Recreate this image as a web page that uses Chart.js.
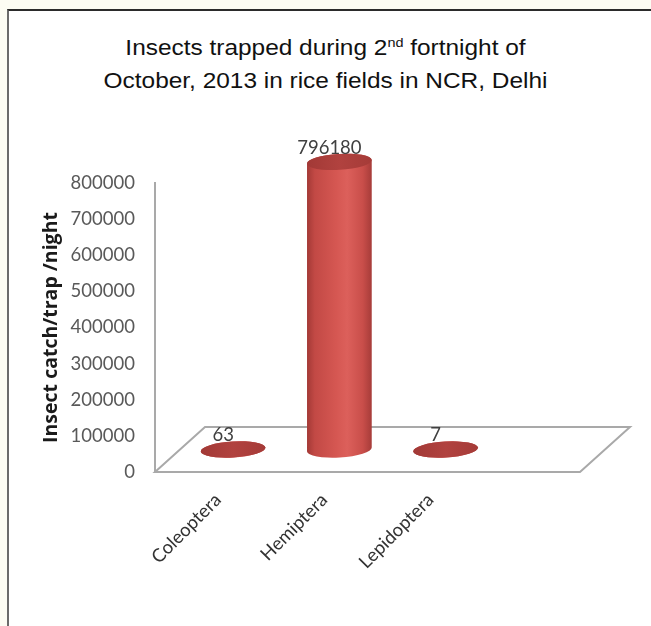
<!DOCTYPE html>
<html>
<head>
<meta charset="utf-8">
<script src="https://cdn.jsdelivr.net/npm/chart.js@4.4.0/dist/chart.umd.min.js"></script>
<style>
  html, body { margin: 0; padding: 0; }
  body { width: 651px; height: 626px; background: #fcfcf3; position: relative; overflow: hidden; }
  .frame {
    position: absolute; left: 7px; top: 9px; right: -5px; bottom: -5px;
    background: #fff; border-left: 2px solid #6b6b6b; border-top: 2px solid #2b2b2b;
  }
  .title {
    position: absolute; left: 0; top: 31px; width: 651px; text-align: center;
    font-family: "Liberation Sans", Arial, sans-serif; font-size: 22px; line-height: 33px;
    color: #111; transform: scaleX(1.11);
  }
  .title sup { font-size: 13px; vertical-align: 8px; line-height: 0; }
  #insectChart { position: absolute; left: 0; top: 0; }
</style>
</head>
<body>
<div class="frame"></div>
<div class="title">Insects trapped during 2<sup>nd</sup> fortnight of<br>October, 2013 in rice fields in NCR, Delhi</div>
<canvas id="insectChart" width="651" height="626"></canvas>
<script>
// Light-trap catches per order
const categories = ['Coleoptera', 'Hemiptera', 'Lepidoptera'];
const catches = [63, 796180, 7];
const yTickValues = [0, 100000, 200000, 300000, 400000, 500000, 600000, 700000, 800000];

// 3D look: floor depth and cylinder cap size
const DEPTH_X = 50;
const DEPTH_Y = 45;
const CAP_RY = 8;
const CAP_TILT = -0.06;
const labelFont = '18.5px Lato';

function drawCylinder(ctx, cx, top, base, w) {
    const rx = w / 2;

    const body = ctx.createLinearGradient(cx - rx, 0, cx + rx, 0);
    body.addColorStop(0, '#a33936');
    body.addColorStop(0.12, '#c24945');
    body.addColorStop(0.45, '#d55752');
    body.addColorStop(0.62, '#dc605b');
    body.addColorStop(0.86, '#c94e4a');
    body.addColorStop(1, '#a63c39');

    ctx.beginPath();
    ctx.ellipse(cx, base, rx, CAP_RY, CAP_TILT, 0, Math.PI, false);
    ctx.ellipse(cx, top, rx, CAP_RY, CAP_TILT, Math.PI, Math.PI * 2, false);
    ctx.closePath();
    ctx.fillStyle = body;
    ctx.fill();

    const cap = ctx.createLinearGradient(cx - rx, 0, cx + rx, 0);
    cap.addColorStop(0, '#a23936');
    cap.addColorStop(0.5, '#b1423f');
    cap.addColorStop(1, '#a53b38');
    ctx.beginPath();
    ctx.ellipse(cx, top, rx, CAP_RY, CAP_TILT, 0, Math.PI * 2);
    ctx.fillStyle = cap;
    ctx.fill();
}

const cylinderPlugin = {
    id: 'cylinders',
    beforeDatasetsDraw(chart) {
        const { ctx, chartArea: a } = chart;
        // floor runs one empty slot past the last category
        const right = a.right + (a.right - a.left) / categories.length;
        ctx.save();
        ctx.strokeStyle = '#a9a9a9';
        ctx.lineWidth = 2;
        ctx.beginPath();
        ctx.moveTo(a.left, a.bottom);
        ctx.lineTo(a.left + DEPTH_X, a.bottom - DEPTH_Y);
        ctx.lineTo(right + DEPTH_X, a.bottom - DEPTH_Y);
        ctx.lineTo(right, a.bottom);
        ctx.closePath();
        ctx.stroke();
        ctx.restore();
    },
    afterDatasetsDraw(chart) {
        const { ctx } = chart;
        const meta = chart.getDatasetMeta(0);
        ctx.save();
        meta.data.forEach((bar, i) => {
            const cx = bar.x + DEPTH_X / 2;
            const top = bar.y - DEPTH_Y / 2;
            const base = bar.base - DEPTH_Y / 2;
            drawCylinder(ctx, cx, top, base, bar.width);

            ctx.font = labelFont;
            ctx.fillStyle = '#404040';
            ctx.textAlign = 'center';
            ctx.textBaseline = 'middle';
            ctx.fillText(String(catches[i]), cx - 10, top - 14);
        });
        ctx.restore();
    }
};

new Chart(document.getElementById('insectChart'), {
    type: 'bar',
    data: {
        labels: categories,
        datasets: [{
            data: catches,
            backgroundColor: 'rgba(0,0,0,0)',
            borderWidth: 0,
            barPercentage: 0.61,
            categoryPercentage: 1.0
        }]
    },
    options: {
        responsive: false,
        animation: false,
        devicePixelRatio: 1,
        layout: { padding: { left: 10, top: 183, right: 177.25, bottom: 54 } },
        plugins: {
            legend: { display: false },
            tooltip: { enabled: false }
        },
        scales: {
            x: {
                grid: { display: false },
                border: { display: false },
                ticks: {
                    minRotation: 45,
                    maxRotation: 45,
                    padding: 9,
                    labelOffset: 10,
                    color: '#333',
                    font: { family: 'Lato', size: 18.5 }
                },
                afterFit: s => { s.height = 100; }
            },
            y: {
                min: 0,
                max: 800000,
                grid: { display: false },
                border: { display: true, color: '#a9a9a9', width: 2 },
                afterBuildTicks: s => { s.ticks = yTickValues.map(v => ({ value: v })); },
                ticks: {
                    padding: 12,
                    color: '#595959',
                    font: { family: 'Lato', size: 18.5 },
                    callback: v => String(v)
                },
                title: {
                    display: true,
                    text: 'Insect catch/trap /night',
                    color: '#1a1a1a',
                    font: { family: 'Open Sans', size: 19.5, weight: 'bold' },
                    padding: { top: 30, bottom: 0 }
                },
                afterFit: s => { s.width = 145; }
            }
        }
    },
    plugins: [cylinderPlugin]
});
</script>
</body>
</html>
